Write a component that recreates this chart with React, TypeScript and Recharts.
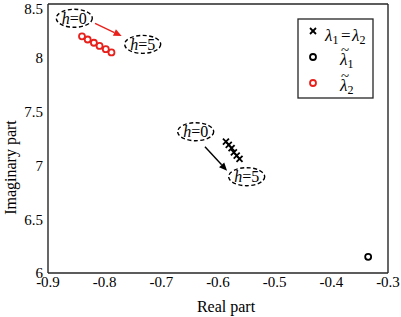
import React from 'react';
import {
  ScatterChart, Scatter, XAxis, YAxis, ReferenceDot, ReferenceLine,
} from 'recharts';

// eigenvalue traces for h = 0..5
const equalRe = [-0.586, -0.581, -0.576, -0.572, -0.567, -0.562];
const equalIm = [7.22, 7.19, 7.16, 7.12, 7.09, 7.06];
const lam1Re = [-0.335];
const lam1Im = [6.15];
const lam2Re = [-0.84, -0.83, -0.819, -0.809, -0.798, -0.788];
const lam2Im = [8.2, 8.17, 8.14, 8.11, 8.08, 8.05];

const xTicks = [-0.9, -0.8, -0.7, -0.6, -0.5, -0.4, -0.3];
const yTicks = [6, 6.5, 7, 7.5, 8, 8.5];

// annotation bubbles (h labels) and arrows, in data units
const bubbleX = [-0.8536, -0.7329, -0.6394, -0.5494];
const bubbleY = [8.367, 8.125, 7.313, 6.895];
const bubbleText = ['0', '5', '0', '5'];
const arrowFrom = [[-0.817, 8.32], [-0.623, 7.174]];
const arrowTo = [[-0.77, 8.203], [-0.584, 6.951]];
const arrowColor = ['#e8211c', '#000'];

const FONT = '"Liberation Serif", "Times New Roman", serif';
const AXIS = '#262626';
const RED = '#e8211c';

const toPts = (xs: number[], ys: number[]) => xs.map((x, i) => ({ x, y: ys[i] }));

const XMark = (p: any) => (
  <g stroke="#000" strokeWidth={1.8}>
    <line x1={p.cx - 3} y1={p.cy - 3} x2={p.cx + 3} y2={p.cy + 3} />
    <line x1={p.cx - 3} y1={p.cy + 3} x2={p.cx + 3} y2={p.cy - 3} />
  </g>
);

const ring = (color: string) => (p: any) => (
  <circle cx={p.cx} cy={p.cy} r={3} fill="none" stroke={color} strokeWidth={1.8} />
);

const bubble = (txt: string) => (p: any) => (
  <g>
    <ellipse cx={p.cx} cy={p.cy} rx={18} ry={9} fill="none" stroke="#000" strokeWidth={1.4} strokeDasharray="4 2.5" />
    <text x={p.cx} y={p.cy + 5.5} textAnchor="middle" fontFamily={FONT} fontSize={16} fill="#000">
      <tspan fontStyle="italic">h</tspan>={txt}
    </text>
  </g>
);

const arrow = (color: string) => (p: any) => {
  const { x1, y1, x2, y2 } = p;
  const a = Math.atan2(y2 - y1, x2 - x1);
  const L = 8, W = 3.5;
  const bx = x2 - L * Math.cos(a), by = y2 - L * Math.sin(a);
  const nx = -Math.sin(a) * W, ny = Math.cos(a) * W;
  return (
    <g>
      <line x1={x1} y1={y1} x2={bx} y2={by} stroke={color} strokeWidth={1.4} />
      <polygon points={`${x2},${y2} ${bx + nx},${by + ny} ${bx - nx},${by - ny}`} fill={color} />
    </g>
  );
};

// lambda with subscript, optional tilde
const Lam = ({ x, y, sub, tilde }: { x: number; y: number; sub: string; tilde?: boolean }) => (
  <g fontFamily={FONT} fill="#000">
    {tilde && <text x={x + 1} y={y - 10} fontSize={15}>~</text>}
    <text x={x} y={y} fontSize={17}>
      <tspan fontStyle="italic">λ</tspan>
      <tspan fontSize={12} dy={3}>{sub}</tspan>
    </text>
  </g>
);

const LegendBox = () => (
  <svg width={401} height={317} style={{ position: 'absolute', left: 0, top: 0, pointerEvents: 'none' }}>
    <rect x={298} y={19} width={75} height={79} fill="#fff" stroke={AXIS} strokeWidth={1.3} />
    <XMark cx={313} cy={31} />
    <circle cx={313} cy={57} r={3} fill="none" stroke="#000" strokeWidth={1.8} />
    <circle cx={313} cy={83} r={3} fill="none" stroke={RED} strokeWidth={1.8} />
    <Lam x={325} y={41} sub="1" />
    <text x={341} y={41} fontFamily={FONT} fontSize={17} fill="#000">=</text>
    <Lam x={352} y={41} sub="2" />
    <Lam x={340} y={65} sub="1" tilde />
    <Lam x={340} y={91} sub="2" tilde />
  </svg>
);

const tickStyle = { fontFamily: FONT, fontSize: 15, fill: '#000' };

const XLabel = (p: any) => (
  <text x={p.viewBox.x + p.viewBox.width / 2 + 8} y={312} textAnchor="middle"
    fontFamily={FONT} fontSize={16} fill="#000">Real part</text>
);

const YLabel = (p: any) => {
  const cy = p.viewBox.y + p.viewBox.height / 2 + 29;
  return (
    <text x={16} y={cy} transform={`rotate(-90, 16, ${cy})`} textAnchor="middle"
      fontFamily={FONT} fontSize={16} fill="#000">Imaginary part</text>
  );
};

export default function App() {
  return (
    <div style={{ position: 'absolute', left: 0, top: 0, width: 401, height: 317, background: '#fff' }}>
      <ScatterChart width={401} height={317} margin={{ top: 4, right: 13, bottom: 0, left: 0 }}>
        <XAxis xAxisId="b" type="number" dataKey="x" domain={[-0.9, -0.3]} ticks={xTicks}
          orientation="bottom" height={44} tickLine={false} tickSize={2} tick={tickStyle} tickMargin={1}
          axisLine={{ stroke: AXIS, strokeWidth: 1.4 }} allowDataOverflow label={{ content: XLabel }} />
        <XAxis xAxisId="bt" type="number" domain={[-0.9, -0.3]} ticks={xTicks} orientation="bottom"
          mirror tick={false} axisLine={false} tickSize={4} tickLine={{ stroke: AXIS }} allowDataOverflow />
        <XAxis xAxisId="t" type="number" domain={[-0.9, -0.3]} ticks={xTicks} orientation="top"
          mirror tick={false} axisLine={{ stroke: AXIS, strokeWidth: 1.4 }} tickSize={4} tickLine={{ stroke: AXIS }} allowDataOverflow />
        <YAxis yAxisId="l" type="number" dataKey="y" domain={[6, 8.5]} ticks={yTicks} width={48}
          tickLine={false} tickSize={2} tick={tickStyle} tickMargin={3} axisLine={{ stroke: AXIS, strokeWidth: 1.4 }}
          allowDataOverflow label={{ content: YLabel }} />
        <YAxis yAxisId="lt" type="number" domain={[6, 8.5]} ticks={yTicks} mirror tick={false}
          axisLine={false} tickSize={4} tickLine={{ stroke: AXIS }} allowDataOverflow />
        <YAxis yAxisId="r" type="number" domain={[6, 8.5]} ticks={yTicks} orientation="right" mirror
          tick={false} axisLine={{ stroke: AXIS, strokeWidth: 1.4 }} tickSize={4} tickLine={{ stroke: AXIS }} allowDataOverflow />

        <Scatter xAxisId="b" yAxisId="l" data={toPts(equalRe, equalIm)} shape={XMark} isAnimationActive={false} />
        <Scatter xAxisId="b" yAxisId="l" data={toPts(lam1Re, lam1Im)} shape={ring('#000')} isAnimationActive={false} />
        <Scatter xAxisId="b" yAxisId="l" data={toPts(lam2Re, lam2Im)} shape={ring(RED)} isAnimationActive={false} />

        {bubbleX.map((x, i) => (
          <ReferenceDot key={'b' + i} xAxisId="b" yAxisId="l" x={x} y={bubbleY[i]} shape={bubble(bubbleText[i])} />
        ))}
        {arrowFrom.map((f, i) => (
          <ReferenceLine key={'a' + i} xAxisId="b" yAxisId="l"
            segment={[{ x: f[0], y: f[1] }, { x: arrowTo[i][0], y: arrowTo[i][1] }]}
            shape={arrow(arrowColor[i])} />
        ))}
      </ScatterChart>
      <LegendBox />
    </div>
  );
}
